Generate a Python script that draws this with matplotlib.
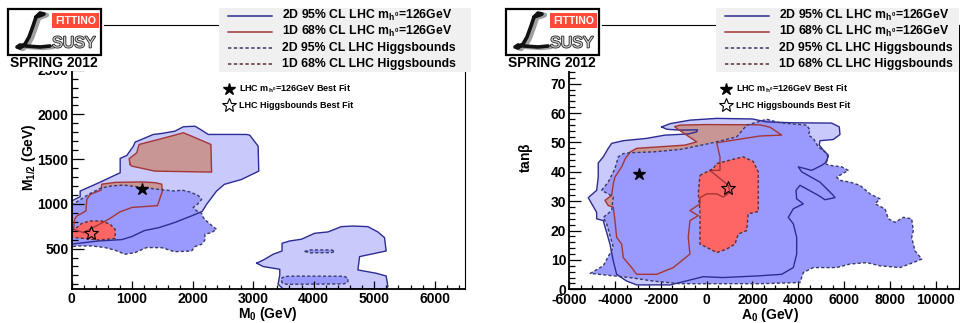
import matplotlib
matplotlib.use("Agg")
import matplotlib.pyplot as plt
import numpy as np
from matplotlib.patches import Rectangle
from matplotlib.ticker import MultipleLocator, FuncFormatter
import matplotlib.patheffects as pe

plt.rcParams['font.family'] = ['Liberation Sans', 'DejaVu Sans']
plt.rcParams['font.weight'] = 'bold'
plt.rcParams['mathtext.fontset'] = 'custom'
plt.rcParams['mathtext.rm'] = 'Liberation Sans:bold'
plt.rcParams['mathtext.it'] = 'Liberation Sans:bold'
plt.rcParams['mathtext.bf'] = 'Liberation Sans:bold'
plt.rcParams['mathtext.sf'] = 'Liberation Sans:bold'
plt.rcParams['axes.unicode_minus'] = False

# ---------------- data: contour outlines (M0, M1/2) in GeV ----------------
m0m12_95_mh = [
    [(0, 1031), (143, 1080), (143, 1143), (474, 1243), (804, 1348), (804, 1508), (913, 1541),
     (1022, 1645), (1050, 1690), (1351, 1776), (1490, 1787), (1709, 1813), (1847, 1862),
     (2040, 1868), (2150, 1824), (2258, 1776), (2891, 1776), (2945, 1768), (3083, 1645),
     (3093, 1366), (2810, 1273), (2525, 1218), (2396, 1143), (2314, 1069), (2231, 994),
     (2160, 916), (2000, 870), (1700, 790), (1450, 735), (1200, 700), (1000, 635), (830, 600),
     (450, 585), (220, 567), (30, 552), (0, 548)],
    [(3060, 336), (3193, 381), (3330, 436), (3478, 473), (3478, 559), (3605, 585), (3797, 604),
     (4017, 671), (4237, 686), (4456, 745), (4649, 752), (4896, 745), (5060, 686), (5170, 623),
     (5198, 473), (4759, 410), (4731, 261), (5033, 224), (5198, 193), (5226, 76), (5198, 50),
     (3495, 50), (3412, 101), (3440, 202), (3440, 268), (3165, 299)],
]
m0m12_68_mh = [
    [(968, 1441), (951, 1504), (1077, 1571), (1116, 1664), (1545, 1739), (1847, 1795),
     (1984, 1757), (2303, 1664), (2314, 1355), (1380, 1366), (995, 1422)],
    [(198, 679), (400, 750), (620, 830), (800, 910), (1000, 960), (1420, 980), (1500, 1140),
     (1490, 1220), (1380, 1237), (1160, 1245), (720, 1240), (500, 1220), (490, 1154),
     (310, 1106), (253, 1050), (237, 920), (89, 864), (50, 827), (35, 715)],
]
m0m12_95_hb = [
    [(0, 985), (140, 1045), (300, 1112), (480, 1175), (660, 1200), (860, 1210), (1160, 1185),
     (1430, 1162), (1710, 1143), (1820, 1154), (1960, 1132), (2090, 1095), (2150, 1050),
     (2080, 995), (2010, 960), (2070, 920), (2150, 894), (2176, 846), (2258, 790), (2396, 715),
     (2314, 679), (2204, 660), (2204, 596), (2150, 548), (2040, 522), (1984, 473), (1900, 470),
     (1700, 465), (1490, 510), (1240, 511), (1050, 455), (885, 436), (720, 481), (556, 511),
     (336, 529), (115, 529), (0, 520)],
    [(3850, 468), (3950, 485), (4300, 484), (4350, 470), (4300, 455), (3950, 452)],
    [(3480, 112), (3460, 165), (3520, 188), (3700, 192), (4500, 190), (4565, 170), (4565, 125),
     (4500, 105), (3560, 100)],
]
m0m12_68_hb = [
    [(0, 700), (61, 723), (171, 782), (308, 808), (501, 808), (638, 771), (721, 715), (721, 612),
     (445, 596), (226, 612), (33, 623), (0, 635)],
]
m0m12_best_mh = (1170, 1170)
m0m12_best_hb = (320, 670)

# ---------------- data: contour outlines (A0 [GeV], tan beta) ----------------
a0tb_95_mh = [
    [(-1966, 55.3), (-1600, 56.4), (-730, 57.6), (437, 58.2), (2000, 58.0), (2621, 57.0),
     (3786, 56.7), (5461, 56.6), (5793, 55.3), (5823, 52.7), (5531, 51.0), (4950, 50.6),
     (4919, 49.1), (5094, 47.4), (5313, 45.7), (5242, 43.4), (5024, 42.2), (4587, 40.5),
     (4294, 41.1), (4002, 41.7), (4150, 40.0), (4950, 36.5), (5531, 32.0), (5605, 31.2),
     (5168, 30.5), (4876, 32.0), (4220, 34.8), (4076, 35.4), (3901, 33.7), (3932, 30.8),
     (4220, 29.1), (3783, 27.4), (3565, 24.5), (3786, 22.3), (3932, 17.7), (3932, 12.0),
     (3786, 7.4), (3277, 5.1), (2329, 4.6), (725, 4.0), (-149, 4.3), (-1166, 2.3), (-1603, 1.5),
     (-3059, 1.5), (-3496, 2.8), (-3932, 5.1), (-4080, 9.7), (-4224, 15.4), (-4517, 23.4),
     (-4806, 24.0), (-4806, 26.2), (-5173, 31.2), (-4806, 33.7), (-4736, 38.2), (-4736, 43.0),
     (-4517, 45.1), (-4299, 48.0), (-4150, 49.7), (-3643, 50.6), (-2621, 51.4), (-1822, 52.5),
     (-804, 52.9), (-437, 53.6), (-400, 54.3), (-1166, 54.2), (-1747, 54.5)],
]
a0tb_68_mh = [
    [(-1385, 55.4), (-1166, 55.9), (0, 56.1), (2329, 56.0), (2766, 55.2), (3277, 52.5),
     (2329, 52.2), (437, 49.9), (581, 45.1), (581, 40.5), (144, 40.5), (944, 35.4), (1018, 33.1),
     (725, 31.4), (437, 32.5), (0, 32.5), (-293, 31.2), (-293, 29.1), (-730, 26.8), (-367, 25.1),
     (-730, 23.4), (-804, 17.7), (-730, 12.0), (-1459, 7.4), (-2184, 5.1), (-3059, 5.1),
     (-3277, 7.4), (-3643, 10.8), (-3714, 15.4), (-3932, 17.7), (-4006, 23.4), (-4080, 28.0),
     (-4299, 28.5), (-4443, 30.3), (-4150, 32.0), (-4080, 36.0), (-4006, 38.2), (-3714, 41.7),
     (-3554, 44.5), (-3335, 46.8), (-3059, 48.0), (-948, 49.1), (-437, 50.2), (-1311, 54.8)],
]
a0tb_95_hb = [
    [(-4587, 33.7), (-4300, 36.5), (-4006, 41.1), (-3860, 45.1), (-3643, 46.2), (-3350, 46.5),
     (-2333, 46.8), (-1166, 47.6), (144, 49.7), (1311, 51.9), (1747, 55.9), (2621, 57.9),
     (3202, 56.7), (4369, 55.9), (4513, 54.2), (4440, 52.5), (4658, 51.4), (4876, 48.5),
     (5168, 46.8), (5313, 45.1), (5168, 42.8), (5386, 42.2), (5898, 41.7), (6186, 40.5),
     (5680, 38.2), (5823, 37.1), (6260, 36.5), (6697, 35.4), (7134, 32.5), (7571, 30.8),
     (7352, 29.1), (7789, 27.4), (7935, 24.0), (8227, 22.8), (8589, 24.5), (8956, 24.0),
     (9026, 20.0), (8956, 17.7), (9100, 13.1), (9393, 10.3), (9026, 9.1), (8445, 7.4),
     (7571, 8.0), (6990, 9.1), (6260, 8.6), (5680, 7.4), (4658, 7.4), (4220, 5.7), (4076, 2.3),
     (2329, 1.9), (288, 1.9), (-1166, 1.9), (-2333, 2.8), (-3350, 4.0), (-5085, 5.4),
     (-4517, 8.0), (-4080, 14.3), (-4299, 20.5), (-4369, 22.3), (-4517, 24.5), (-4150, 26.8),
     (-4080, 31.5)],
]
a0tb_68_hb = [
    [(-293, 38.8), (288, 41.1), (437, 42.8), (1018, 44.0), (1599, 45.1), (2036, 43.5),
     (2254, 40.0), (2254, 26.5), (1817, 25.7), (1747, 20.0), (1381, 18.8), (1236, 15.4),
     (874, 13.7), (437, 12.5), (0, 14.3), (-293, 15.4), (-293, 26.8), (-367, 32.5)],
]
a0tb_best_mh = (-2950, 39.2)
a0tb_best_hb = (944, 34.4)

legend_labels = [r"2D 95% CL LHC m$_{h^0}$=126GeV",
                 r"1D 68% CL LHC m$_{h^0}$=126GeV",
                 "2D 95% CL LHC Higgsbounds",
                 "1D 68% CL LHC Higgsbounds"]

# ---------------- style ----------------
C_LB, C_MB, C_BR, C_RD = '#c9c9fb', '#9a9afe', '#c99696', '#fe6565'
L_B, L_R, L_DB, L_DR = '#2c2c94', '#a43636', '#3a3a66', '#5a3030'
DASH = (0, (2.2, 1.6))

W, H = 960, 323
fig = plt.figure(figsize=(W / 100, H / 100), dpi=100)


def px_axes(x0, y0, x1, y1):
    return fig.add_axes([x0 / W, 1 - y1 / H, (x1 - x0) / W, (y1 - y0) / H])


def draw_regions(ax, r95mh, r68mh, r95hb, r68hb):
    for polys, fc in [(r95mh, C_LB), (r68mh, C_BR), (r95hb, C_MB), (r68hb, C_RD)]:
        for p in polys:
            x, y = zip(*p)
            ax.fill(x, y, color=fc, lw=0, zorder=1)
    for polys, lc, ls in [(r95mh, L_B, '-'), (r68mh, L_R, '-'), (r95hb, L_DB, DASH), (r68hb, L_DR, DASH)]:
        for p in polys:
            x, y = zip(*(p + [p[0]]))
            ax.plot(x, y, color=lc, lw=1.0, ls=ls, zorder=2)


def style_axes(ax, hidden):
    for s in ['left', 'bottom']:
        ax.spines[s].set_linewidth(1.3)
    for s in ['top', 'right']:
        ax.spines[s].set_linewidth(0.8)
    ax.tick_params(which='both', direction='in', top=False, right=False, labelsize=10, width=0.9)
    ax.tick_params(axis='y', which='major', length=8.6, pad=2.2)
    ax.tick_params(axis='y', which='minor', length=4.3)
    ax.tick_params(axis='x', which='major', length=5.8, pad=2.6)
    ax.tick_params(axis='x', which='minor', length=2.9)
    # labels under the logo are not shown in the reference
    ax.yaxis.set_major_formatter(FuncFormatter(
        lambda v, p: '' if v >= hidden else '%d' % v))


# ---- left panel: M0 vs M1/2 ----
ax1 = px_axes(71.5, 25, 465, 288.8)
draw_regions(ax1, m0m12_95_mh, m0m12_68_mh, m0m12_95_hb, m0m12_68_hb)
ax1.plot(*m0m12_best_mh, marker='*', ms=9, color='k', zorder=3)
ax1.plot(*m0m12_best_hb, marker='*', ms=10.5, mfc='none', mec='k', mew=0.8, zorder=3)
ax1.set_xlim(0, 6500)
ax1.set_ylim(50, 3000)
ax1.xaxis.set_major_locator(MultipleLocator(1000))
ax1.xaxis.set_minor_locator(MultipleLocator(200))
ax1.yaxis.set_major_locator(MultipleLocator(500))
ax1.yaxis.set_minor_locator(MultipleLocator(100))
style_axes(ax1, 3000)
ax1.set_xlabel(r"M$_0$ (GeV)", fontsize=10, fontweight='bold', va='center')
ax1.xaxis.set_label_coords(0.5, -0.096)
ax1.set_ylabel(r"M$_{1/2}$ (GeV)", fontsize=10, fontweight='bold')
ax1.yaxis.set_label_coords(-0.086, 0.5)

# ---- right panel: A0 vs tan beta ----
ax2 = px_axes(569.3, 25, 958.5, 289.3)
draw_regions(ax2, a0tb_95_mh, a0tb_68_mh, a0tb_95_hb, a0tb_68_hb)
ax2.plot(*a0tb_best_mh, marker='*', ms=9, color='k', zorder=3)
ax2.plot(*a0tb_best_hb, marker='*', ms=10.5, mfc='none', mec='k', mew=0.8, zorder=3)
ax2.set_xlim(-6000, 11000)
ax2.set_ylim(0, 90)
ax2.xaxis.set_major_locator(MultipleLocator(2000))
ax2.xaxis.set_minor_locator(MultipleLocator(500))
ax2.yaxis.set_major_locator(MultipleLocator(10))
ax2.yaxis.set_minor_locator(MultipleLocator(2))
style_axes(ax2, 80)
ax2.set_xlabel(r"A$_0$ (GeV)", fontsize=10, fontweight='bold', va='center')
ax2.xaxis.set_label_coords(0.517, -0.096)
ax2.set_ylabel(r"tan$\beta$", fontsize=10, fontweight='bold')
ax2.yaxis.set_label_coords(-0.087, 0.5)

# ---- overlay: logos, legends, best-fit key (figure pixel coordinates) ----
ov = fig.add_axes([0, 0, 1, 1], zorder=10)
ov.set_xlim(0, W)
ov.set_ylim(H, 0)
ov.axis('off')
ov.patch.set_alpha(0)

# script "L" of the logo, relative to the logo box corner
logo_lx = [28, 32, 36, 34, 28, 25, 21, 17, 12, 9, 12, 18, 32, 42]
logo_ly = [17, 13, 14, 15, 17, 26, 37, 44, 48, 47, 45, 46, 47, 46]


def draw_logo(x0):
    ov.add_patch(Rectangle((x0 - 8, 0), 104, 70.5, fc='white', ec='none'))
    ov.add_patch(Rectangle((x0, 9), 93, 46, fc='white', ec='black', lw=1.6))
    ov.add_patch(Rectangle((x0 + 44, 13), 47, 14.5, fc='#fe4a36', ec='none'))
    ov.text(x0 + 67.5, 20.6, "FITTINO", color='white', fontsize=7.6, fontweight='bold',
            ha='center', va='center')
    ov.plot([x0 + v + 3 for v in logo_lx], [v + 1 for v in logo_ly], color='#a0a0a0',
            lw=3.2, solid_capstyle='round', solid_joinstyle='round')
    ov.plot([x0 + v for v in logo_lx], logo_ly, color='#111111', lw=2.6,
            solid_capstyle='round', solid_joinstyle='round')
    ov.text(x0 + 66, 43, "SUSY", fontsize=11.5, fontweight='normal', color='#d0d0d0',
            ha='center', va='center',
            path_effects=[pe.withStroke(linewidth=1.2, foreground='#222222')])
    ov.text(x0 + 46, 63, "SPRING 2012", fontsize=10, fontweight='bold', color='black',
            ha='center', va='center')


def draw_legend(x0, w):
    ov.add_patch(Rectangle((x0, 8), w, 64, fc='#f0f0f0', ec='none'))
    ys = [15.5, 31.5, 47.5, 63.5]
    styles = [(L_B, '-'), (L_R, '-'), (L_DB, DASH), (L_DR, DASH)]
    for y, (c, ls), lab in zip(ys, styles, legend_labels):
        ov.plot([x0 + 9, x0 + 53], [y, y], color=c, ls=ls, lw=1.1)
        ov.text(x0 + 63, y, lab, fontsize=8.8, fontweight='bold', ha='left', va='center')


def draw_key(x0):
    ov.plot(x0, 89, marker='*', ms=9, color='k')
    ov.plot(x0, 105, marker='*', ms=10.5, mfc='white', mec='k', mew=0.8)
    ov.text(x0 + 10, 89, r"LHC m$_{h^0}$=126GeV Best Fit", fontsize=6.5, fontweight='bold',
            ha='left', va='center')
    ov.text(x0 + 10, 105, "LHC Higgsbounds Best Fit", fontsize=6.5, fontweight='bold',
            ha='left', va='center')


draw_logo(8)
draw_logo(506)
draw_legend(219, 252)
draw_legend(716, 243)
draw_key(229)
draw_key(726)

fig.savefig("out.png", dpi=100)
